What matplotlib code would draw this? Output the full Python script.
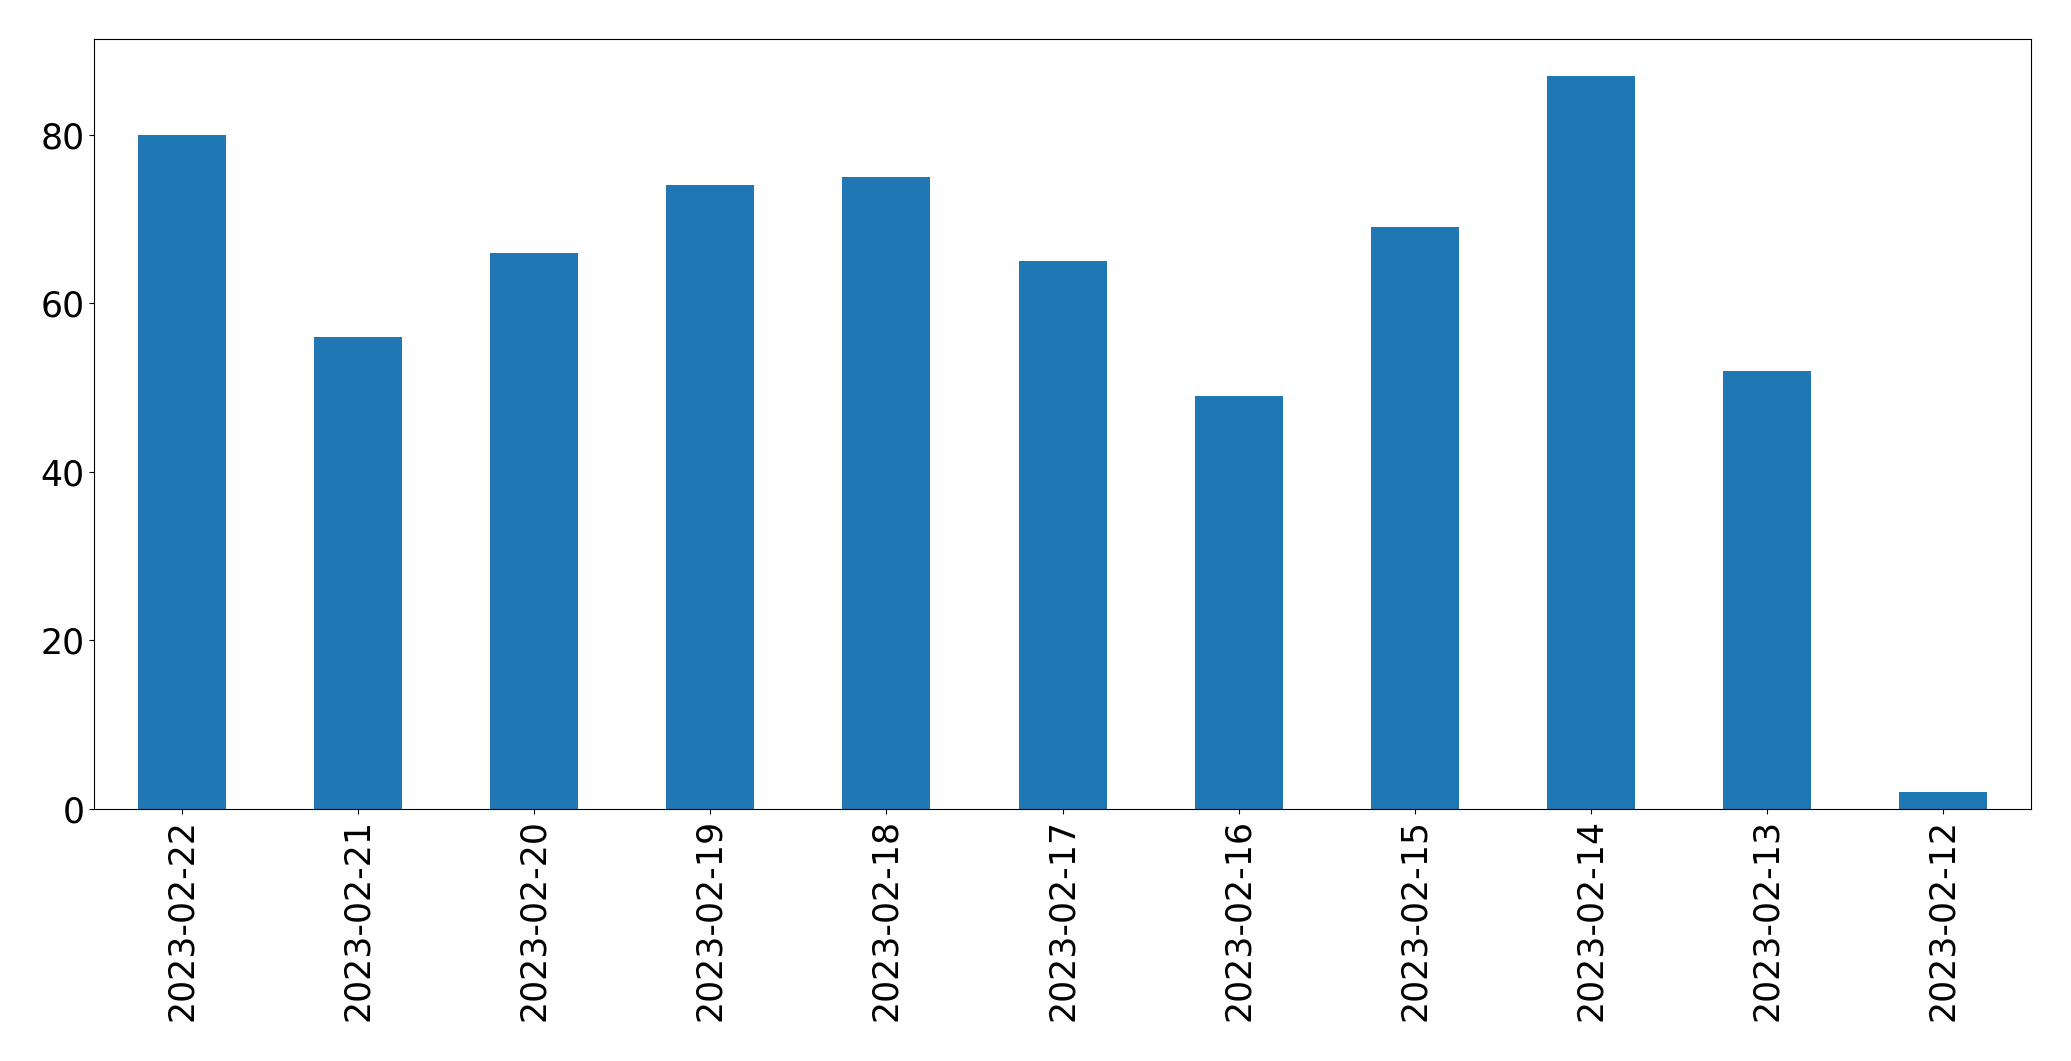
import pandas as pd
import matplotlib
matplotlib.use("Agg")
import matplotlib.pyplot as plt


# daily counts, newest first
dates = [
    "2023-02-22", "2023-02-21", "2023-02-20", "2023-02-19",
    "2023-02-18", "2023-02-17", "2023-02-16", "2023-02-15",
    "2023-02-14", "2023-02-13", "2023-02-12",
]
counts = [80, 56, 66, 74, 75, 65, 49, 69, 87, 52, 2]


def main() -> None:
    series = pd.Series(counts, index=dates)

    fig, ax = plt.subplots(figsize=(20.71, 10.61), dpi=100)
    series.plot(kind="bar", ax=ax, color="#1f77b4")

    ax.tick_params(axis="both", labelsize=25)
    fig.subplots_adjust(left=0.0454, right=0.9807, top=0.9632, bottom=0.2375)

    fig.savefig("out.png", dpi=100)
    plt.close(fig)


if __name__ == "__main__":
    main()
